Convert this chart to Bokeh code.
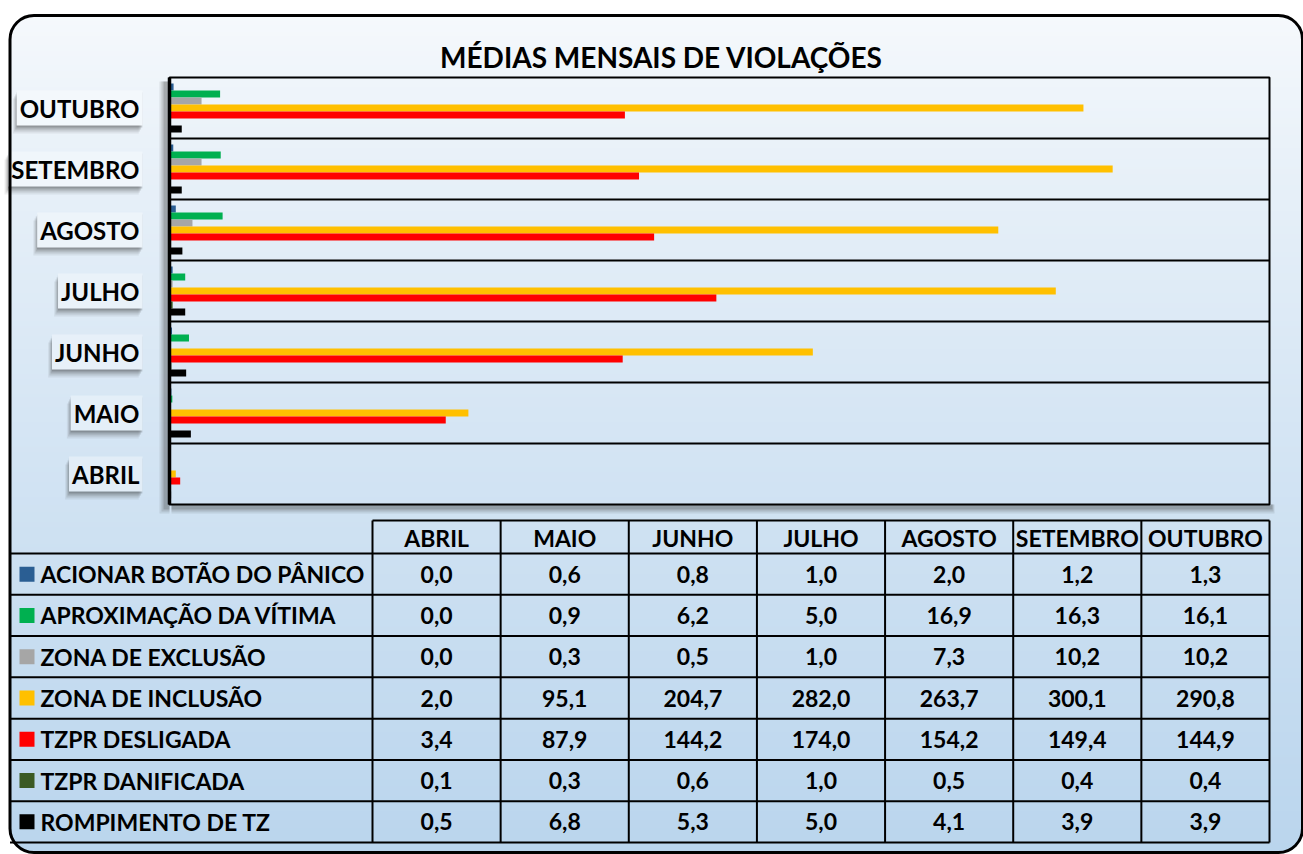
import numpy as np
from bokeh.plotting import figure
from bokeh.models import Range1d, ColumnDataSource, Label, BoxAnnotation
from bokeh.core.properties import value
from bokeh.embed import file_html
from bokeh.resources import INLINE

# ---------------- data ----------------
title = "MÉDIAS MENSAIS DE VIOLAÇÕES"
months = ["ABRIL", "MAIO", "JUNHO", "JULHO", "AGOSTO", "SETEMBRO", "OUTUBRO"]
series = ["ACIONAR BOTÃO DO PÂNICO", "APROXIMAÇÃO DA VÍTIMA", "ZONA DE EXCLUSÃO",
          "ZONA DE INCLUSÃO", "TZPR DESLIGADA", "TZPR DANIFICADA", "ROMPIMENTO DE TZ"]
colors = ["#2A5E93", "#00B050", "#A6A6A6", "#FFC000", "#FF0000", "#3B5A24", "#000000"]
acionar = [0.0, 0.6, 0.8, 1.0, 2.0, 1.2, 1.3]
aproximacao = [0.0, 0.9, 6.2, 5.0, 16.9, 16.3, 16.1]
exclusao = [0.0, 0.3, 0.5, 1.0, 7.3, 10.2, 10.2]
inclusao = [2.0, 95.1, 204.7, 282.0, 263.7, 300.1, 290.8]
desligada = [3.4, 87.9, 144.2, 174.0, 154.2, 149.4, 144.9]
danificada = [0.1, 0.3, 0.6, 1.0, 0.5, 0.4, 0.4]
rompimento = [0.5, 6.8, 5.3, 5.0, 4.1, 3.9, 3.9]
values_by_series = [acionar, aproximacao, exclusao, inclusao, desligada, danificada, rompimento]
x_max = 350

# ---------------- layout constants (canvas pixels) ----------------
W, H = 1303, 854
FONT = "Lato"
CARD_L, CARD_R, CARD_T, CARD_B, CARD_RAD = 9.5, 1302, 15, 852, 24
PX0, PX1 = 169, 1269          # plot area left / right
PY0, ROW_H = 77, 61           # plot area top, category band height
n_m = len(months)
n_s = len(series)

TBL_L, TBL_R = 372, 1269
TBL_T, TBL_HB, TBL_B = 520, 553, 842
CW = (TBL_R - TBL_L) / n_m
RH = (TBL_B - TBL_HB) / n_s

p = figure(width=W, height=H, x_range=Range1d(0, W), y_range=Range1d(H, 0),
           output_backend="svg", toolbar_location=None, min_border=0)
p.axis.visible = False
p.grid.visible = False
p.outline_line_color = None
p.background_fill_color = "white"
p.border_fill_color = "white"

ppu = (PX1 - PX0) / x_max
p.extra_x_ranges = {"val": Range1d(-PX0 / ppu, (W - PX0) / ppu)}
p.extra_y_ranges = {"row": Range1d((H - PY0) / ROW_H, -PY0 / ROW_H)}

# ---------------- card background (vertical gradient, rounded) ----------------
top_c = np.array([246, 249, 252])
bot_c = np.array([186, 213, 237])
def grad(y):
    t = np.clip((y - CARD_T) / (CARD_B - CARD_T), 0, 1) ** 0.85
    c = top_c + (bot_c - top_c) * t
    return c

ys = np.arange(CARD_T, CARD_B, 2.0)
lefts, rights, cols = [], [], []
for yy in ys:
    yc = yy + 1
    inset = 0.0
    if yc < CARD_T + CARD_RAD:
        dy = CARD_T + CARD_RAD - yc
        inset = CARD_RAD - np.sqrt(max(CARD_RAD ** 2 - dy ** 2, 0))
    elif yc > CARD_B - CARD_RAD:
        dy = yc - (CARD_B - CARD_RAD)
        inset = CARD_RAD - np.sqrt(max(CARD_RAD ** 2 - dy ** 2, 0))
    lefts.append(CARD_L + inset)
    rights.append(CARD_R - inset)
    c = grad(yc)
    cols.append("#%02x%02x%02x" % tuple(int(round(v)) for v in c))
p.quad(left=lefts, right=rights, top=list(ys), bottom=list(ys + 2.6), fill_color=cols, line_color=None)

# ---------------- plot area shadows ----------------
for k, a in enumerate([0.10, 0.14, 0.20]):
    s = 3 - k
    p.quad(left=[PX0 - 4 - 2 * s], right=[PX0], top=[PY0 + 4], bottom=[PY0 + n_m * ROW_H + 3 + 2 * s],
           fill_color="#333333", fill_alpha=a, line_color=None)
    p.quad(left=[PX0 + 2], right=[PX1 + 2 + s], top=[PY0 + n_m * ROW_H],
           bottom=[PY0 + n_m * ROW_H + 3 + 2 * s], fill_color="#333333", fill_alpha=a, line_color=None)

# ---------------- bars ----------------
bh = 7 / ROW_H
for j, (name, vals, col) in enumerate(zip(series, values_by_series, colors)):
    rows = [n_m - 1 - k + 0.5 + (j - (n_s - 1) / 2) * bh for k in range(n_m)]
    src = ColumnDataSource(dict(y=rows, v=vals, m=months))
    p.hbar(y="y", left=0, right="v", height=bh, source=src, fill_color=col, line_color=None,
           x_range_name="val", y_range_name="row")

# plot box, row separators, axis line
p.quad(left=[0], right=[x_max], top=[0], bottom=[n_m], fill_color=None, line_color="black",
       line_width=2, x_range_name="val", y_range_name="row")
p.segment(x0=[0] * (n_m - 1), x1=[x_max] * (n_m - 1), y0=list(range(1, n_m)), y1=list(range(1, n_m)),
          line_color="black", line_width=2, x_range_name="val", y_range_name="row")
p.segment(x0=[0], x1=[0], y0=[0], y1=[n_m], line_color="black", line_width=3.5,
          x_range_name="val", y_range_name="row")

# ---------------- category labels with shadowed boxes ----------------
for k, m in enumerate(months):
    r = n_m - 1 - k + 0.5
    yc = PY0 + r * ROW_H
    bg = grad(yc)
    bg = bg + (255 - bg) * 0.35
    bgc = "#%02x%02x%02x" % tuple(int(round(v)) for v in bg)
    for off, a in [(8, 0.07), (6, 0.10), (4, 0.15), (2, 0.2)]:
        p.add_layout(Label(x=142 - off * 0.6 + 1, y=r, y_offset=-off, y_range_name="row",
                           text=m, text_align="right", text_baseline="middle",
                           text_font=FONT, text_font_style="bold", text_font_size="24px",
                           text_color="#1f1f1f", text_alpha=0.02,
                           background_fill_color="#1f1f1f", background_fill_alpha=a,
                           padding=3))
    p.add_layout(Label(x=142, y=r, y_range_name="row", text=m, text_align="right",
                       text_baseline="middle", text_font=FONT, text_font_style="bold",
                       text_font_size="24px", text_color="black",
                       background_fill_color=bgc, background_fill_alpha=1.0, padding=3))

# ---------------- title ----------------
p.text(x=[661], y=[56], text=[title], text_align="center", text_baseline="middle",
       text_font=value(FONT), text_font_style="bold", text_font_size="28px", text_color="black")

# ---------------- data table ----------------
col_x = [TBL_L + (c + 0.5) * CW for c in range(n_m)]
row_y = [TBL_HB + (i + 0.5) * RH for i in range(n_s)]

p.text(x=col_x, y=[(TBL_T + TBL_HB) / 2 + 1] * n_m, text=months, text_align="center",
       text_baseline="middle", text_font=value(FONT), text_font_style="bold",
       text_font_size="23px", text_color="black")

cx, cy, ct = [], [], []
for i, vals in enumerate(values_by_series):
    for c, v in enumerate(vals):
        cx.append(col_x[c]); cy.append(row_y[i]); ct.append(f"{v:.1f}".replace(".", ","))
p.text(x=cx, y=cy, text=ct, text_align="center", text_baseline="middle",
       text_font=value(FONT), text_font_style="bold", text_font_size="23px", text_color="black")

p.scatter(x=[26.5] * n_s, y=row_y, marker="square", size=15, fill_color=colors, line_color=None)
p.text(x=[40] * n_s, y=row_y, text=series, text_align="left", text_baseline="middle",
       text_font=value(FONT), text_font_style="bold", text_font_size="23px", text_color="black")

hx0 = [TBL_L] + [CARD_L] * (n_s + 1)
hy = [TBL_T] + [TBL_HB + i * RH for i in range(n_s + 1)]
p.segment(x0=hx0, x1=[TBL_R] * len(hx0), y0=hy, y1=hy, line_color="black", line_width=2)
vx = [TBL_L + c * CW for c in range(n_m + 1)]
p.segment(x0=vx, x1=vx, y0=[TBL_T] * len(vx), y1=[TBL_B] * len(vx), line_color="black", line_width=2)

# ---------------- card border ----------------
p.add_layout(BoxAnnotation(left=CARD_L, right=CARD_R, top=CARD_T, bottom=CARD_B,
                           fill_alpha=0, line_color="black", line_width=3, line_alpha=1,
                           border_radius=CARD_RAD))

open("out.html", "w").write(file_html(p, INLINE))
